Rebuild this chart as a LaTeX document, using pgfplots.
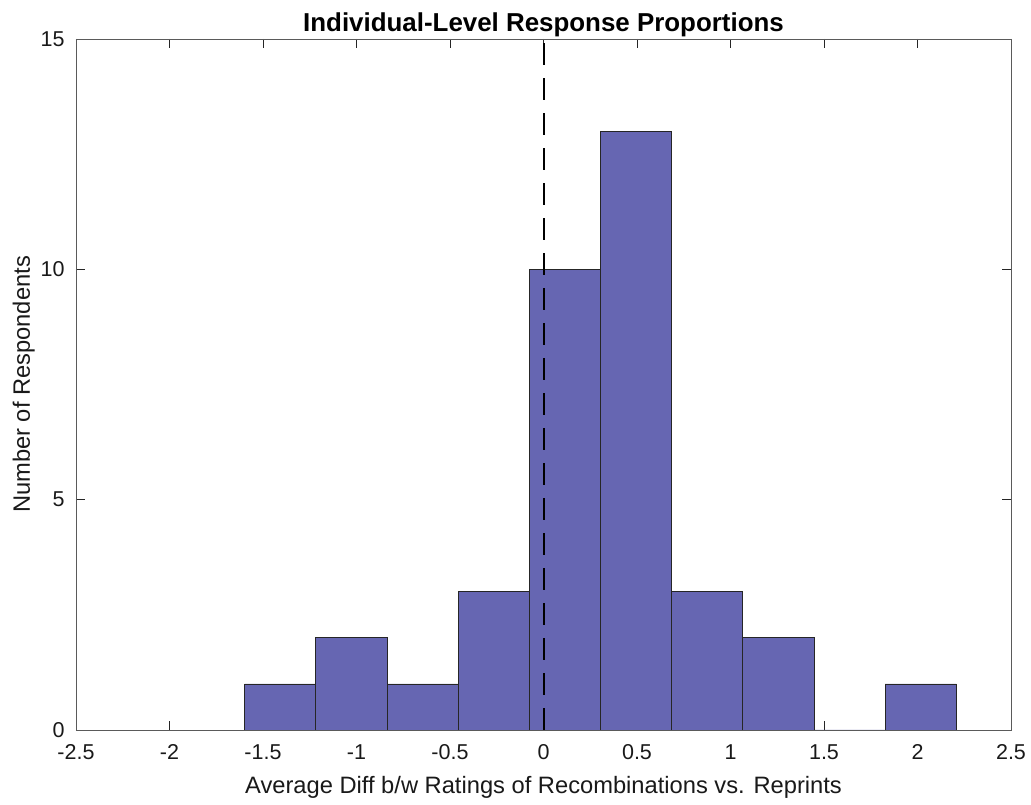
\documentclass[border=0pt]{standalone}
\usepackage{pgfplots}
\pgfplotsset{compat=1.18}
\usepackage{fontspec}
\setmainfont{Liberation Sans}
\definecolor{barfill}{RGB}{102,102,178}
\definecolor{baredge}{RGB}{38,38,38}
\definecolor{axcol}{RGB}{90,90,90}
\begin{document}
\begin{tikzpicture}
\begin{axis}[
  width=935pt, height=691pt, scale only axis,
  xmin=-2.5, xmax=2.5, ymin=0, ymax=15,
  xtick={-2.5,-2,-1.5,-1,-0.5,0,0.5,1,1.5,2,2.5},
  xticklabels={-2.5,-2,-1.5,-1,-0.5,0,0.5,1,1.5,2,2.5},
  ytick={0,5,10,15},
  yticklabels={0,5,10,15},
  tick align=inside,
  major tick length=9pt,
  tick style={color=baredge, line width=0.8pt},
  axis line style={color=axcol, line width=0.8pt},
  ticklabel style={font=\fontsize{21.5}{24}\selectfont, color=black!90},
  xticklabel style={yshift=-11pt},
  yticklabel style={xshift=-8pt},
  label style={font=\fontsize{23.7}{26}\selectfont, color=black!90},
  title style={font=\bfseries\fontsize{25.9}{29}\selectfont, yshift=-7pt},
  title={Individual-Level Response Proportions},
  xlabel={Average Diff b/w Ratings of Recombinations vs. Reprints},
  ylabel={Number of Respondents},
  xlabel style={yshift=-10pt},
  ylabel style={yshift=-1pt},
]
\addplot[ybar interval, fill=barfill, draw=baredge, line width=0.8pt] coordinates {
  (-1.598,1) (-1.218,2) (-0.837,1) (-0.456,3) (-0.076,10) (0.305,13)
  (0.686,3) (1.066,2) (1.447,0) (1.827,1) (2.208,1)
};
\addplot[black, line width=2pt, dash pattern=on 22pt off 13pt] coordinates {(0,0) (0,15)};
\end{axis}
\pgfresetboundingbox
\path[use as bounding box] (current axis.south west) ++(-76pt,-75pt) rectangle ++(1031pt,805pt);
\end{tikzpicture}
\end{document}
